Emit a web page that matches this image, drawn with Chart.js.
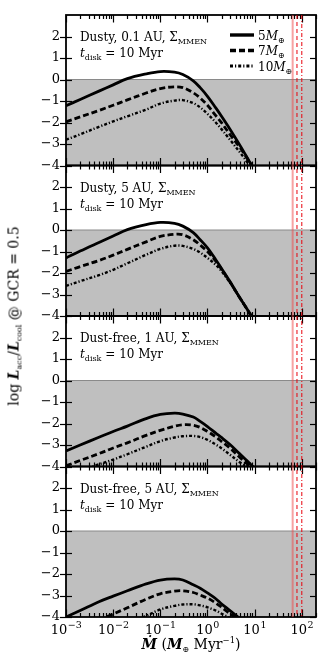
<!DOCTYPE html>
<html><head><meta charset="utf-8">
<script src="https://cdn.jsdelivr.net/npm/chart.js@4.4.1/dist/chart.umd.min.js"></script>
<style>
html,body{margin:0;padding:0;background:#fff;}
#wrap{position:relative;width:332px;height:664px;overflow:hidden;}
canvas{position:absolute;left:0;top:0;}
.t{position:absolute;font-family:"DejaVu Serif",serif;font-size:12px;color:#000;white-space:nowrap;line-height:12px;}
.sb{font-size:8px;position:relative;top:3px;}
.sp{font-size:8.5px;position:relative;top:-6px;}
#ytitle{position:absolute;left:15px;top:316px;transform:translate(-50%,-50%) rotate(-90deg);font-family:"DejaVu Serif",serif;font-size:14px;white-space:nowrap;line-height:14px;}
#xtitle{position:absolute;left:191px;top:645px;transform:translate(-50%,-50%);font-family:"DejaVu Serif",serif;font-size:14px;white-space:nowrap;line-height:14px;}
</style>
</head><body>
<div id="wrap">
<canvas id="c" width="332" height="664"></canvas>
<div id="ytitle">log <b><i>L</i></b><span class="sb">acc</span>/<b><i>L</i></b><span class="sb">cool</span> @ GCR = 0.5</div>
<div id="xtitle"><b><i>Ṁ</i></b> (<b><i>M</i></b><span class="sb">⊕</span> Myr<span class="sp">−1</span>)</div>
</div>
<script>
// ---- data ----
const mdot = [0.001,0.002,0.005,0.01,0.02,0.05,0.1,0.2,0.3,0.5,0.7,1,1.5,2,3,5,7,10];

const dusty01_5M  = [-1.22,-0.93,-0.54,-0.25,0.04,0.26,0.37,0.34,0.23,-0.06,-0.38,-0.78,-1.32,-1.72,-2.31,-3.1,-3.65,-4.25];
const dusty01_7M  = [-1.97,-1.74,-1.44,-1.2,-0.95,-0.63,-0.42,-0.34,-0.38,-0.62,-0.86,-1.2,-1.68,-2.02,-2.56,-3.2,-3.68,-4.2];
const dusty01_10M = [-2.8,-2.55,-2.2,-1.95,-1.71,-1.4,-1.12,-0.98,-0.96,-1.1,-1.3,-1.6,-2.0,-2.32,-2.8,-3.42,-3.85,-4.3];

const dusty5_5M  = [-1.30,-0.98,-0.58,-0.28,0.02,0.25,0.35,0.31,0.18,-0.12,-0.45,-0.83,-1.38,-1.8,-2.4,-3.2,-3.7,-4.25];
const dusty5_7M  = [-1.93,-1.7,-1.42,-1.17,-0.9,-0.55,-0.3,-0.2,-0.22,-0.45,-0.7,-1.0,-1.45,-1.83,-2.42,-3.2,-3.7,-4.25];
const dusty5_10M = [-2.6,-2.38,-2.1,-1.85,-1.55,-1.15,-0.88,-0.73,-0.74,-0.88,-1.05,-1.3,-1.62,-1.92,-2.45,-3.2,-3.72,-4.27];

const free1_5M  = [-3.28,-3.0,-2.64,-2.37,-2.12,-1.77,-1.58,-1.52,-1.56,-1.7,-1.9,-2.14,-2.45,-2.66,-2.98,-3.44,-3.75,-4.08];
const free1_7M  = [-3.97,-3.72,-3.4,-3.14,-2.9,-2.55,-2.32,-2.13,-2.06,-2.08,-2.18,-2.37,-2.62,-2.84,-3.14,-3.6,-3.88,-4.12];
const free1_10M = [null,-4.2,-3.9,-3.68,-3.43,-3.08,-2.82,-2.65,-2.59,-2.58,-2.63,-2.76,-2.98,-3.16,-3.45,-3.83,-4.03,-4.3];

const free5_5M  = [-4.0,-3.7,-3.29,-3.03,-2.78,-2.46,-2.28,-2.23,-2.28,-2.5,-2.66,-2.88,-3.15,-3.4,-3.7,-4.1,null,null];
const free5_7M  = [null,null,-4.15,-3.86,-3.57,-3.17,-2.92,-2.8,-2.78,-2.86,-2.98,-3.12,-3.35,-3.55,-3.85,-4.15,null,null];
const free5_10M = [null,null,null,null,-4.3,-3.95,-3.65,-3.48,-3.42,-3.41,-3.46,-3.55,-3.7,-3.85,-4.05,null,null,null];

const massLabels = ['5', '7', '10'];
const limitMdot = [64, 79, 100];          // red vertical lines
const panelTitles = ['Dusty, 0.1 AU, ', 'Dusty, 5 AU, ', 'Dust-free, 1 AU, ', 'Dust-free, 5 AU, '];
const diskLabel = ' = 10 Myr';
const xRange = [0.001, 200];
const yRange = [-4, 3];
const xTickExponents = [-3, -2, -1, 0, 1, 2];
const yTickValues = [-4, -3, -2, -1, 0, 1, 2];
const shadeLevel = 0;

// ---- styles ----
const lineStyles = [
  {w: 2.8, dash: []},
  {w: 2.8, dash: [6, 3]},
  {w: 2.4, dash: [3, 2, 1.2, 2]}
];
const redStyles = [
  {c: 'rgba(240,70,70,0.5)', w: 2, dash: []},
  {c: '#e8000b', w: 1, dash: [4, 3]},
  {c: '#e8000b', w: 1, dash: [4, 2, 1, 2]}
];
const FONT = '"DejaVu Serif", serif';

// panels listed top to bottom
const panels = [
  {id: 'y1', series: [dusty01_5M, dusty01_7M, dusty01_10M]},
  {id: 'y2', series: [dusty5_5M, dusty5_7M, dusty5_10M]},
  {id: 'y3', series: [free1_5M, free1_7M, free1_10M]},
  {id: 'y4', series: [free5_5M, free5_7M, free5_10M]}
];

const datasets = [];
panels.forEach(p => {
  p.series.forEach((s, i) => {
    datasets.push({
      label: massLabels[i] + ' ' + p.id,
      data: mdot.map((x, j) => ({x: x, y: s[j]})),
      yAxisID: p.id, xAxisID: 'x',
      borderColor: '#000', borderWidth: lineStyles[i].w, borderDash: lineStyles[i].dash,
      pointRadius: 0, fill: false, tension: 0.35, clip: 0, order: 0,
      borderCapStyle: 'butt'
    });
  });
  datasets.push({
    label: 'shade ' + p.id,
    data: [{x: xRange[0], y: shadeLevel}, {x: xRange[1], y: shadeLevel}],
    yAxisID: p.id, xAxisID: 'x',
    borderColor: '#8a8a8a', borderWidth: 1, backgroundColor: '#bfbfbf',
    fill: 'start', pointRadius: 0, order: 5, clip: 0
  });
});

function yScale() {
  return {
    type: 'linear', position: 'left', stack: 'panels', stackWeight: 1,
    min: yRange[0], max: yRange[1],
    ticks: {
      stepSize: 1, autoSkip: false, padding: 6, color: '#000',
      font: {family: FONT, size: 13},
      callback: v => (yTickValues.includes(v) ? (v < 0 ? '\u2212' + (-v) : String(v)) : '')
    },
    grid: {display: false, drawTicks: false},
    border: {display: false},
    afterFit(s) { s.width = 66; }
  };
}

function seg(ctx, x1, y1, x2, y2) { ctx.beginPath(); ctx.moveTo(x1, y1); ctx.lineTo(x2, y2); ctx.stroke(); }

const decor = {
  id: 'decor',
  afterDatasetsDraw(chart) {
    const ctx = chart.ctx, xs = chart.scales.x;
    const L = chart.chartArea.left, R = chart.chartArea.right;
    const areaTop = chart.chartArea.top, areaBot = chart.chartArea.bottom;
    ctx.save();
    ctx.strokeStyle = '#000'; ctx.setLineDash([]);
    panels.forEach(p => {
      const ys = chart.scales[p.id];
      const T = ys.top, B = ys.bottom;
      ctx.lineWidth = 1.2;
      xTickExponents.forEach(e => {
        for (let k = 1; k <= 9; k++) {
          const v = k * Math.pow(10, e);
          if (v < xRange[0] || v > xRange[1]) continue;
          const px = Math.round(xs.getPixelForValue(v)) + 0.5;
          const len = k === 1 ? 7.5 : 4;
          seg(ctx, px, T, px, T + len);
          seg(ctx, px, B, px, B - len);
        }
      });
      yTickValues.forEach(v => {
        const py = Math.round(ys.getPixelForValue(v)) + 0.5;
        seg(ctx, L - 6, py, L + 6, py);
        seg(ctx, R - 6, py, R, py);
      });
      ctx.lineWidth = 1.8;
      ctx.strokeRect(L, T, R - L, B - T);
    });
    // red vertical lines across all panels
    limitMdot.forEach((v, i) => {
      const st = redStyles[i];
      const px = xs.getPixelForValue(v);
      ctx.strokeStyle = st.c; ctx.lineWidth = st.w; ctx.setLineDash(st.dash);
      seg(ctx, px, areaTop, px, areaBot);
    });
    ctx.setLineDash([]);
    // legend in the top panel
    const yTop = chart.scales[panels[0].id];
    const rows = [20, 35.5, 51];
    rows.forEach((dy, i) => {
      const yy = yTop.top + dy;
      ctx.strokeStyle = '#000'; ctx.lineWidth = lineStyles[i].w + 0.6; ctx.setLineDash(lineStyles[i].dash);
      seg(ctx, R - 86, yy, R - 62, yy);
      ctx.setLineDash([]);
      ctx.fillStyle = '#000'; ctx.textBaseline = 'alphabetic'; ctx.textAlign = 'left';
      let x = R - 58;
      ctx.font = '12px ' + FONT; ctx.fillText(massLabels[i], x, yy + 4.5); x += ctx.measureText(massLabels[i]).width;
      ctx.font = 'italic 12px ' + FONT; ctx.fillText('M', x, yy + 4.5); x += ctx.measureText('M').width;
      ctx.font = '8px ' + FONT; ctx.fillText('\u2295', x, yy + 7.5);
    });
    // x tick labels below the bottom panel
    const base = areaBot + 17;
    ctx.fillStyle = '#000';
    xTickExponents.forEach(e => {
      const px = xs.getPixelForValue(Math.pow(10, e));
      const sup = e < 0 ? '\u2212' + (-e) : String(e);
      ctx.font = '13px ' + FONT; const w1 = ctx.measureText('10').width;
      ctx.font = '9.5px ' + FONT; const w2 = ctx.measureText(sup).width;
      const x0 = px - (w1 + w2) / 2;
      ctx.font = '13px ' + FONT; ctx.textAlign = 'left'; ctx.fillText('10', x0, base);
      ctx.font = '9.5px ' + FONT; ctx.fillText(sup, x0 + w1 + 0.5, base - 6.5);
    });
    ctx.restore();
  }
};

const scales = {
  x: {
    type: 'logarithmic', position: 'bottom', min: xRange[0], max: xRange[1],
    ticks: {display: false}, grid: {display: false}, border: {display: false},
    afterFit(s) { s.height = 47; }
  }
};
// stacked left axes are laid out in reverse definition order: define bottom panel first
panels.slice().reverse().forEach(p => { scales[p.id] = yScale(); });

const chart = new Chart(document.getElementById('c'), {
  type: 'line',
  data: {datasets: datasets},
  options: {
    responsive: false, animation: false, devicePixelRatio: 1,
    layout: {padding: {top: 15, right: 16, left: 0, bottom: 0}},
    plugins: {legend: {display: false}, tooltip: {enabled: false}},
    scales: scales
  },
  plugins: [decor]
});

// panel annotations as HTML text, placed from the chart's own scales
const wrap = document.getElementById('wrap');
panels.forEach((p, i) => {
  const ys = chart.scales[p.id];
  const L = chart.chartArea.left;
  const a = document.createElement('div');
  a.className = 't';
  a.style.left = (L + 14) + 'px'; a.style.top = (ys.top + 16) + 'px';
  a.innerHTML = panelTitles[i] + '\u03A3<span class="sb">MMEN</span>';
  wrap.appendChild(a);
  const b = document.createElement('div');
  b.className = 't';
  b.style.left = (L + 14) + 'px'; b.style.top = (ys.top + 32) + 'px';
  b.innerHTML = '<i>t</i><span class="sb">disk</span>' + diskLabel;
  wrap.appendChild(b);
});
</script>
</body></html>
